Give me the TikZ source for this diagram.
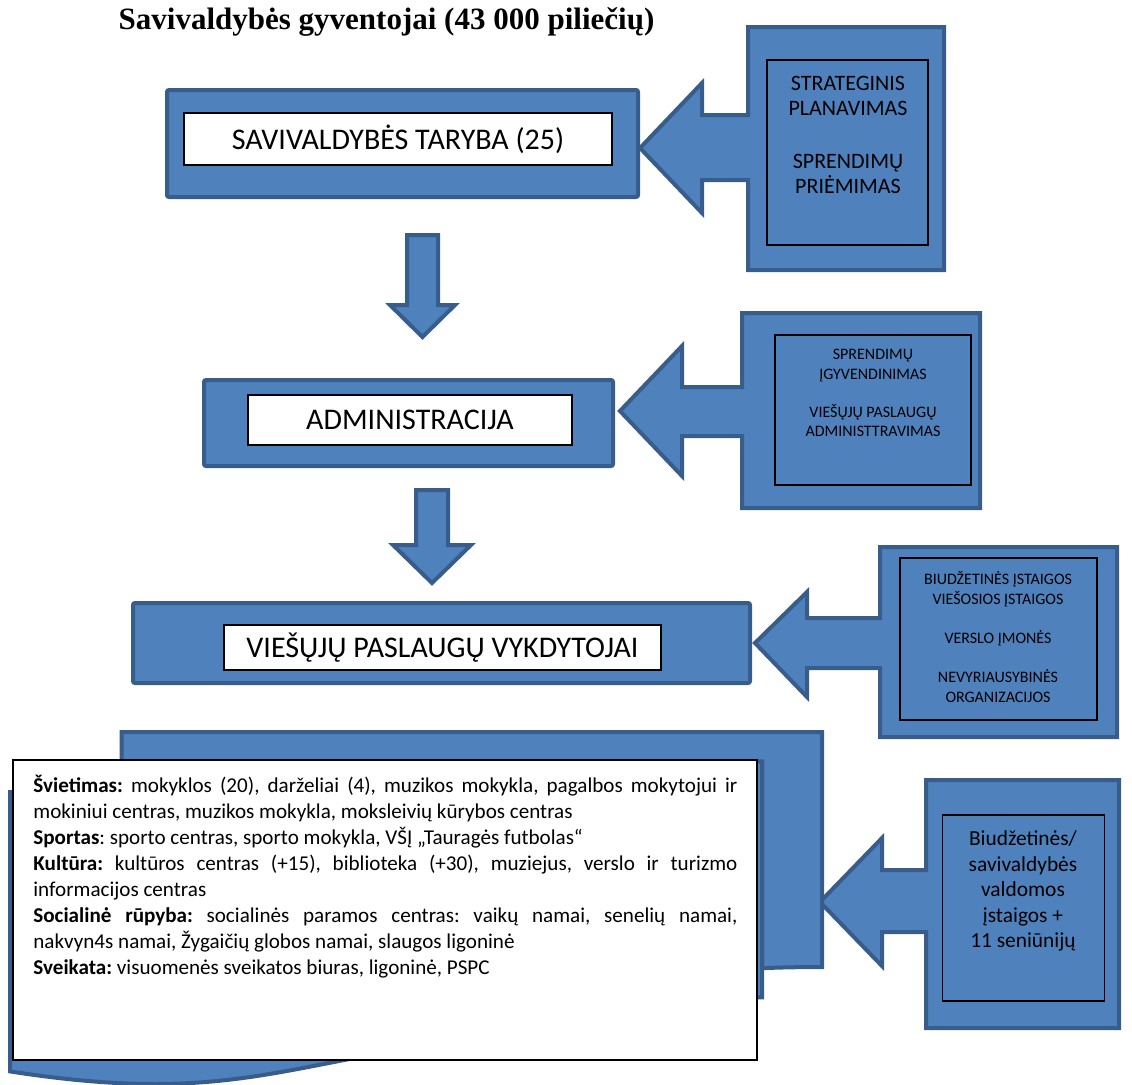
\documentclass[tikz,border=0pt]{standalone}
\usepackage{fontspec}
\setmainfont{Carlito}
\newfontfamily\titlefont{Liberation Serif}
\usetikzlibrary{
  calc,
  positioning,
}
\definecolor{boxblue}{HTML}{4F81BD}
\definecolor{edgeblue}{HTML}{385D8A}
\tikzset{
  blue shape/.style={fill=boxblue, draw=edgeblue, line width=2pt, line join=miter},
  frame/.style={draw=black, line width=0.6pt, inner sep=0pt},
}

\begin{document}
\begin{tikzpicture}[x=0.5pt, y=-0.5pt,
      level/.style={blue shape, rounded corners=1pt, inner sep=0pt},
      label box/.style={fill=white, draw=black, line width=0.7pt, inner sep=0pt, font=\fontsize{15}{17}\selectfont},
      side text/.style={align=center, inner sep=0pt},
    ]
  \useasboundingbox (0,0) rectangle (1132,1084);

  \node [font=\titlefont\bfseries\fontsize{15.5}{18}\selectfont] (title) at (386.5,22) {Savivaldybės gyventojai (43 000 piliečių)};

  % three levels
  \node [level, minimum width=235.5pt, minimum height=53.5pt] (council) at (402.5,143.5) {};
  \node [label box, minimum width=214pt, minimum height=26pt] (council label) at (398,139) {SAVIVALDYBĖS TARYBA (25)};
  \node [level, minimum width=204.5pt, minimum height=43pt] (admin) at (408.5,423) {};
  \node [label box, minimum width=162pt, minimum height=25pt] (admin label) at (410,420) {ADMINISTRACIJA};
  \node [level, minimum width=308.5pt, minimum height=40pt] (providers) at (441.5,643) {};
  \node [label box, minimum width=218.5pt, minimum height=22.5pt] (providers label) at (442.5,647.5) {VIEŠŲJŲ PASLAUGŲ VYKDYTOJAI};

  % down arrows
  \draw [blue shape] (407,235) -- (438,235) -- (438,305) -- (455,305) -- (422.5,337) -- (390,305) -- (407,305) -- cycle;
  \draw [blue shape] (416,490) -- (448,490) -- (448,545) -- (471,545) -- (432,583) -- (393,545) -- (416,545) -- cycle;

  % callouts
  \draw [blue shape] (944,27) -- (748,27) -- (748,115) -- (702,115) -- (702,83) -- (640,148)
        -- (702,213) -- (702,180) -- (748,180) -- (748,270) -- (944,270) -- cycle;
  \node [frame, minimum width=80.5pt, minimum height=92.5pt] (plan frame) at (847.5,152.5) {};
  \node [side text, font=\fontsize{11}{12.5}\selectfont] (plan text) at (848,134.5)
        {STRATEGINIS\\PLANAVIMAS\\[14pt]SPRENDIMŲ\\PRIĖMIMAS};

  \draw [blue shape] (980,313) -- (742,313) -- (742,387) -- (682,387) -- (682,346) -- (620,411)
        -- (682,476) -- (682,436) -- (742,436) -- (742,508) -- (980,508) -- cycle;
  \node [frame, minimum width=98pt, minimum height=75pt] (exec frame) at (873,410) {};
  \node [side text, font=\fontsize{8}{9.75}\selectfont] (exec text) at (873,393)
        {SPRENDIMŲ\\ĮGYVENDINIMAS\\[9.25pt]VIEŠŲJŲ PASLAUGŲ\\ADMINISTTRAVIMAS};

  \draw [blue shape] (1117,547) -- (880,547) -- (880,618) -- (807,618) -- (807,592) -- (755,643)
        -- (807,697) -- (807,668) -- (880,668) -- (880,737) -- (1117,737) -- cycle;
  \node [frame, minimum width=98.5pt, minimum height=81pt] (kinds frame) at (998.5,639) {};
  \node [side text, font=\fontsize{8}{10}\selectfont] (kinds text) at (998,636.5)
        {BIUDŽETINĖS ĮSTAIGOS\\VIEŠOSIOS ĮSTAIGOS\\[9.5pt]VERSLO ĮMONĖS\\[9.5pt]NEVYRIAUSYBINĖS\\ORGANIZACIJOS};

  \draw [blue shape] (1119,780) -- (926,780) -- (926,870) -- (882,870) -- (882,838) -- (820,902)
        -- (882,966) -- (882,932) -- (926,932) -- (926,1028) -- (1119,1028) -- cycle;
  \node [frame, minimum width=81pt, minimum height=93pt] (own frame) at (1023.5,908) {};
  \node [side text, font=\fontsize{10.7}{12.75}\selectfont] (own text) at (1023,891)
        {Biudžetinės/\\savivaldybės\\valdomos\\įstaigos +\\11 seniūnijų};

  % stacked pages behind the list
  \draw [blue shape] (121.7,761.6) -- (121.7,732) -- (822,732) -- (822,967)
        .. controls (787,967) and (762,968.2) .. (762,968.2) -- (762,761.6) -- cycle;
  \draw [blue shape] (67.6,792) -- (67.6,761.6) -- (762,761.6) -- (762,997.4)
        .. controls (735.5,997.4) and (709,999) .. (709,999) -- (709,792) -- cycle;
  \draw [blue shape] (10,1071.4) .. controls (300,1116.4) and (300,1026.3) .. (709,1026.3)
        -- (709,792) -- (10,792) -- cycle;

  \node [frame, fill=white, minimum width=372pt, minimum height=150pt] (list box) at (385,910) {};
  \node [anchor=north west, text width=352pt, align=justify, inner sep=0pt,
         font=\fontsize{10.55}{13}\selectfont] (list text) at (33,775)
        {\frenchspacing\hyphenpenalty=10000
         \textbf{Švietimas:} mokyklos (20), darželiai (4), muzikos mokykla, pagalbos mokytojui ir\linebreak
         mokiniui centras, muzikos mokykla, moksleivių kūrybos centras\par
         \textbf{Sportas}: sporto centras, sporto mokykla, VŠĮ „Tauragės futbolas“\par
         \textbf{Kultūra:} kultūros centras (+15), biblioteka (+30), muziejus, verslo ir turizmo\linebreak
         informacijos centras\par
         \textbf{Socialinė rūpyba:} socialinės paramos centras: vaikų namai, senelių namai,\linebreak
         nakvyn4s namai, Žygaičių globos namai, slaugos ligoninė\par
         \textbf{Sveikata:} visuomenės sveikatos biuras, ligoninė, PSPC};
\end{tikzpicture}
\end{document}
